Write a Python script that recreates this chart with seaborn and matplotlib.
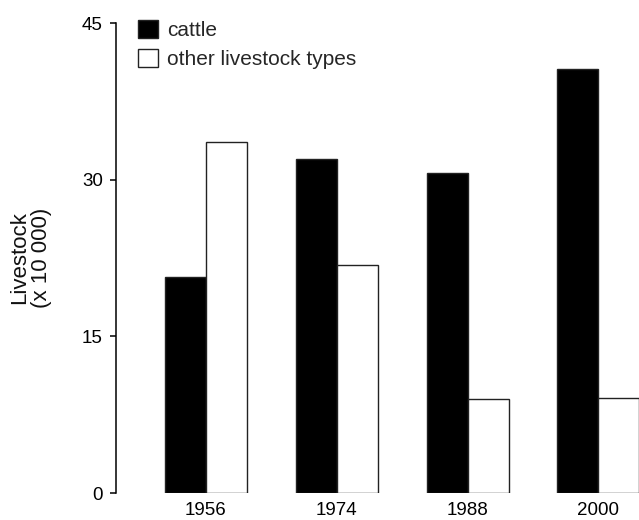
import matplotlib
matplotlib.use("Agg")
import matplotlib.pyplot as plt
import seaborn as sns
import pandas as pd

years = ["1956", "1974", "1988", "2000"]
cattle = [20.7, 32.0, 30.6, 40.6]
other_livestock = [33.6, 21.8, 9.0, 9.1]
series_names = ["cattle", "other livestock types"]
y_ticks = [0, 15, 30, 45]

df = pd.DataFrame({
    "year": years * 2,
    "type": [series_names[0]] * len(years) + [series_names[1]] * len(years),
    "value": cattle + other_livestock,
})

sns.set_theme(style="ticks")
plt.rcParams["font.family"] = ["Liberation Sans", "DejaVu Sans"]

fig = plt.figure(figsize=(6.39, 5.2), dpi=100)
ax = fig.add_axes([116 / 639, 27 / 520, 1 - 116 / 639, 470 / 520])

sns.barplot(
    data=df, x="year", y="value", hue="type", order=years,
    hue_order=series_names, palette=["black", "white"],
    edgecolor="#222222", linewidth=1.0, width=0.627, gap=0,
    ax=ax,
)

ax.set_ylim(0, 45)
ax.set_xlim(-0.688, 3.311)
ax.set_yticks(y_ticks)
ax.set_yticklabels([str(t) for t in y_ticks])

for s in ["top", "right", "bottom"]:
    ax.spines[s].set_visible(False)
ax.spines["left"].set_linewidth(1.1)
ax.spines["left"].set_color("black")

ax.tick_params(axis="y", length=4.5, width=1.1, pad=5, labelsize=13.5, colors="black")
ax.tick_params(axis="x", length=0, pad=6.5, labelsize=13.5, colors="black")

ax.set_xlabel("")
ax.set_ylabel("Livestock\n(x 10 000)", fontsize=16, color="#111111", linespacing=1.05)
ax.yaxis.set_label_coords(-0.122, 0.5)

leg = ax.legend(
    loc="upper left", bbox_to_anchor=(138 / 639, 1 - 20 / 520),
    bbox_transform=fig.transFigure, frameon=False, fontsize=15,
    handlelength=0.95, handleheight=0.95, handletextpad=0.45,
    labelspacing=0.43, borderpad=0, borderaxespad=0,
)

fig.savefig("out.png", dpi=100, facecolor="white")
